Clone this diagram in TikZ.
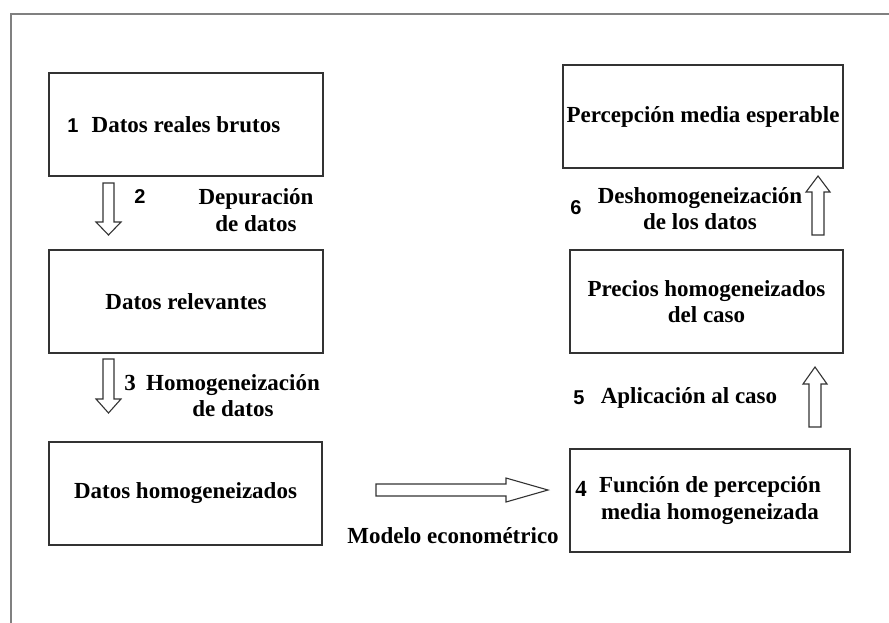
\documentclass[tikz,border=0pt]{standalone}
\usepackage{fontspec}
\setmainfont{Liberation Serif}
\newfontfamily\numfont{Liberation Sans}
\tikzset{
  txt/.style={font=\bfseries\fontsize{23}{26.5}\selectfont, align=center, inner sep=0pt},
  num/.style={font=\numfont\bfseries\fontsize{20}{22}\selectfont, inner sep=0pt},
  box/.style={draw=black!80, line width=1.5pt, fill=white, inner sep=0pt, txt},
  barrow/.style={draw=black!80, line width=1.1pt, fill=white, line join=miter},
  frame/.style={draw=black!50, line width=2.5pt}
}
\newcommand{\DownArr}[4]{\draw[barrow] (#1-5.5,#2) -- (#1+5.5,#2) -- (#1+5.5,#3-#4) -- (#1+12.5,#3-#4) -- (#1,#3) -- (#1-12.5,#3-#4) -- (#1-5.5,#3-#4) -- cycle;}
\newcommand{\UpArr}[4]{\draw[barrow] (#1-6,#2) -- (#1+6,#2) -- (#1+6,#3+#4) -- (#1+12,#3+#4) -- (#1,#3) -- (#1-12,#3+#4) -- (#1-6,#3+#4) -- cycle;}
\begin{document}
\begin{tikzpicture}[x=1pt,y=-1pt]
\useasboundingbox (0,0) rectangle (889,623);
\fill[white] (0,0) rectangle (889,623);
% outer frame (only top and left edges visible)
\draw[frame] (11,623) -- (11,14) -- (889,14);

% boxes
\node[box, minimum width=274pt, minimum height=103pt] (b1) at (186,124.5) {Datos reales brutos};
\node[box, minimum width=274pt, minimum height=103pt] (b2) at (186,301.5) {Datos relevantes};
\node[box, minimum width=273pt, minimum height=103pt] (b3) at (185.5,493.5) {Datos homogeneizados};
\node[box, minimum width=280pt, minimum height=103pt] (b4) at (710,500.5) {Función de percepción\\media homogeneizada};
\node[box, minimum width=273pt, minimum height=103pt] (b5) at (706.5,301.5) {Precios homogeneizados\\del caso};
\node[box, minimum width=280pt, minimum height=103pt] (b6) at (703,116.5) {Percepción media esperable};

% step numbers
\node[num] (n1) at (73,126) {1};
\node[num] (n2) at (140,197) {2};
\node[txt] (n3) at (130,383) {3};
\node[txt] (n4) at (581,489) {4};
\node[num] (n5) at (579,398) {5};
\node[num] (n6) at (576,208) {6};

% labels
\node[txt] (l2) at (256,210) {Depuración\\de datos};
\node[txt] (l3) at (233,395.5) {Homogeneización\\de datos};
\node[txt] (l4) at (453,536) {Modelo econométrico};
\node[txt] (l5) at (689,398) {Aplicación al caso};
\node[txt] (l6) at (700,208.5) {Deshomogeneización\\de los datos};

% block arrows
\DownArr{108.5}{183}{235}{13}
\DownArr{108.5}{359}{413}{14}
\UpArr{815}{427}{367}{17}
\UpArr{818}{235}{176}{16}
\draw[barrow] (376,484) -- (506,484) -- (506,478) -- (548,490) -- (506,502) -- (506,496) -- (376,496) -- cycle;
\end{tikzpicture}
\end{document}
